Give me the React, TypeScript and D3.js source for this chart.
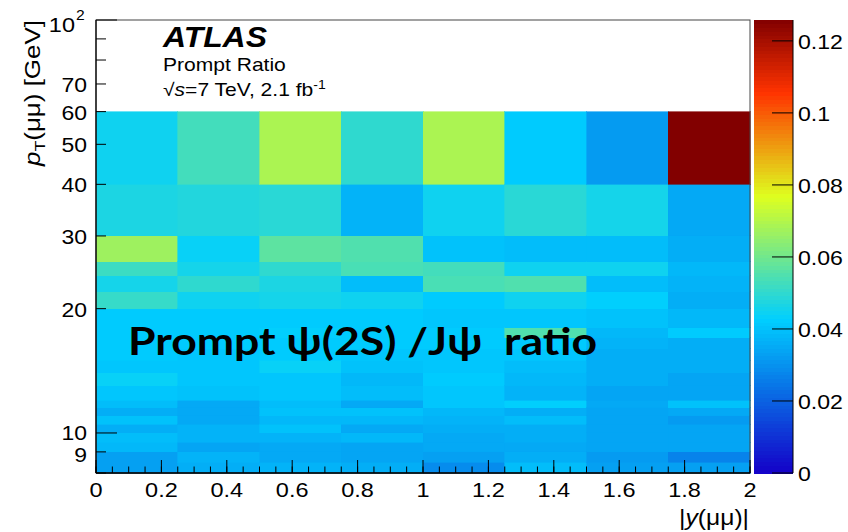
import React from 'react';
import * as d3 from 'd3';

// |y(μμ)| bin edges and pT(μμ) bin edges [GeV]
const rapEdges = [0, 0.25, 0.5, 0.75, 1.0, 1.25, 1.5, 1.75, 2.0];
const ptEdges = [8, 8.5, 9, 9.5, 10, 10.5, 11, 11.5, 12, 13, 14, 15, 16, 17, 18, 20, 22, 24, 26, 30, 40, 60];

// Prompt ψ(2S)/J/ψ ratio, one array per rapidity slice, pT bins from low to high
const ratio_y000_025 = [0.033, 0.033, 0.038, 0.039, 0.036, 0.040, 0.036, 0.039, 0.041, 0.044, 0.041, 0.042, 0.042, 0.042, 0.042, 0.051, 0.046, 0.052, 0.067, 0.047, 0.045];
const ratio_y025_050 = [0.036, 0.037, 0.034, 0.037, 0.037, 0.035, 0.035, 0.035, 0.040, 0.041, 0.041, 0.041, 0.042, 0.042, 0.042, 0.045, 0.050, 0.046, 0.044, 0.048, 0.053];
const ratio_y050_075 = [0.037, 0.035, 0.035, 0.037, 0.040, 0.038, 0.040, 0.039, 0.041, 0.041, 0.044, 0.042, 0.042, 0.043, 0.042, 0.046, 0.047, 0.050, 0.057, 0.049, 0.069];
const ratio_y075_100 = [0.036, 0.034, 0.034, 0.038, 0.035, 0.038, 0.040, 0.035, 0.039, 0.038, 0.040, 0.041, 0.042, 0.042, 0.042, 0.045, 0.039, 0.054, 0.055, 0.037, 0.050];
const ratio_y100_125 = [0.029, 0.033, 0.035, 0.035, 0.036, 0.037, 0.038, 0.041, 0.041, 0.042, 0.041, 0.041, 0.042, 0.042, 0.041, 0.042, 0.054, 0.053, 0.040, 0.045, 0.069];
const ratio_y125_150 = [0.039, 0.036, 0.035, 0.036, 0.036, 0.039, 0.036, 0.043, 0.037, 0.038, 0.039, 0.041, 0.042, 0.055, 0.041, 0.045, 0.055, 0.045, 0.039, 0.049, 0.042];
const ratio_y150_175 = [0.033, 0.032, 0.034, 0.034, 0.034, 0.034, 0.034, 0.035, 0.034, 0.036, 0.036, 0.036, 0.037, 0.038, 0.040, 0.043, 0.039, 0.045, 0.039, 0.046, 0.032];
const ratio_y175_200 = [0.033, 0.027, 0.034, 0.034, 0.034, 0.032, 0.035, 0.040, 0.034, 0.034, 0.036, 0.036, 0.036, 0.042, 0.038, 0.036, 0.037, 0.038, 0.036, 0.035, 0.1258];

const ratioColumns = [
  ratio_y000_025, ratio_y025_050, ratio_y050_075, ratio_y075_100,
  ratio_y100_125, ratio_y125_150, ratio_y150_175, ratio_y175_200,
];

const xMajorTicks = [0, 0.2, 0.4, 0.6, 0.8, 1.0, 1.2, 1.4, 1.6, 1.8, 2.0];
const xTickLabels = ['0', '0.2', '0.4', '0.6', '0.8', '1', '1.2', '1.4', '1.6', '1.8', '2'];
const yLabelTicks = [9, 10, 20, 30, 40, 50, 60, 70];
const yLabelText = ['9', '10', '20', '30', '40', '50', '60', '70'];
const yMinorTicks = [8, 9, 20, 30, 40, 50, 60, 70, 80, 90];
const yMajorTicks = [10, 100];
const zTicks = [0, 0.02, 0.04, 0.06, 0.08, 0.1, 0.12];
const zTickLabels = ['0', '0.02', '0.04', '0.06', '0.08', '0.1', '0.12'];
const zMax = 0.1258;
const paletteStops = [0, 0.34, 0.61, 0.84, 1.0];
const paletteColors = ['rgb(20,0,200)', 'rgb(0,207,255)', 'rgb(222,255,31)', 'rgb(255,51,0)', 'rgb(130,0,0)'];

const W = 848, H = 532;
const plot = { left: 96, right: 750, top: 20, bottom: 473 };
const bar = { left: 754, right: 793 };
const FONT = '"Liberation Sans", Arial, Helvetica, sans-serif';

export default function App() {
  const xs = d3.scaleLinear().domain([0, 2]).range([plot.left, plot.right]);
  const ys = d3.scaleLog().domain([8, 100]).range([plot.bottom, plot.top]);
  const zs = d3.scaleLinear().domain([0, zMax]).range([plot.bottom, plot.top]);
  const color = d3
    .scaleLinear<string>()
    .domain(paletteStops.map((s) => s * zMax))
    .range(paletteColors)
    .interpolate(d3.interpolateRgb)
    .clamp(true);

  const cells: any[] = [];
  ratioColumns.forEach((col, i) => {
    col.forEach((v, j) => {
      const x0 = xs(rapEdges[i]);
      const x1 = xs(rapEdges[i + 1]);
      const y0 = ys(ptEdges[j + 1]);
      const y1 = ys(ptEdges[j]);
      cells.push(
        <rect key={`c${i}-${j}`} x={x0} y={y0} width={x1 - x0} height={y1 - y0}
          fill={color(v)} stroke={color(v)} strokeWidth={0.6} />
      );
    });
  });

  const nBands = 120;
  const bands = d3.range(nBands).map((k) => {
    const v0 = (k / nBands) * zMax;
    const v1 = ((k + 1) / nBands) * zMax;
    return (
      <rect key={`b${k}`} x={bar.left} y={zs(v1)} width={bar.right - bar.left}
        height={zs(v0) - zs(v1) + 0.5} fill={color((v0 + v1) / 2)} />
    );
  });

  const xMinor = d3.range(0, 41).map((k) => k * 0.05);

  return (
    <svg width={W} height={H} style={{ position: 'absolute', left: 0, top: 0, background: '#fff' }}
      fontFamily={FONT}>
      <rect x={0} y={0} width={W} height={H} fill="#fff" />
      <g shapeRendering="crispEdges">{cells}</g>

      {/* frame */}
      <rect x={plot.left} y={plot.top} width={plot.right - plot.left} height={plot.bottom - plot.top}
        fill="none" stroke="#444" strokeWidth={1} />
      <line x1={plot.left} x2={plot.left} y1={plot.top} y2={plot.bottom} stroke="#000" strokeWidth={1.2} />
      <line x1={plot.left} x2={plot.right} y1={plot.bottom} y2={plot.bottom} stroke="#000" strokeWidth={1.5} />

      {/* x ticks */}
      {xMinor.map((t, k) => (
        <line key={`xm${k}`} x1={xs(t)} x2={xs(t)} y1={plot.bottom} y2={plot.bottom - 6.5} stroke="#000" strokeWidth={1} />
      ))}
      {xMajorTicks.map((t, k) => (
        <line key={`xM${k}`} x1={xs(t)} x2={xs(t)} y1={plot.bottom} y2={plot.bottom - 13} stroke="#000" strokeWidth={1} />
      ))}
      {xMajorTicks.map((t, k) => (
        <g key={`xl${k}`} transform={`translate(${xs(t)},497) scale(1.12,1)`}>
          <text textAnchor="middle" fontSize={21} fill="#000">{xTickLabels[k]}</text>
        </g>
      ))}

      {/* y ticks */}
      {yMinorTicks.map((t, k) => (
        <line key={`ym${k}`} x1={plot.left} x2={plot.left + 10} y1={ys(t)} y2={ys(t)} stroke="#000" strokeWidth={1} />
      ))}
      {yMajorTicks.map((t, k) => (
        <line key={`yM${k}`} x1={plot.left} x2={plot.left + 21} y1={ys(t)} y2={ys(t)} stroke="#000" strokeWidth={1} />
      ))}
      {yLabelTicks.map((t, k) => (
        <g key={`yl${k}`} transform={`translate(87,${ys(t) + (t === 10 ? 7 : t === 9 ? 10 : 8)}) scale(1.12,1)`}>
          <text textAnchor="end" fontSize={20.5} fill="#000">{yLabelText[k]}</text>
        </g>
      ))}
      <g transform={`translate(75,${ys(100) + 12}) scale(1.12,1)`}>
        <text textAnchor="end" fontSize={21} fill="#000">10</text>
      </g>
      <g transform={`translate(76,${ys(100)}) scale(1.12,1)`}>
        <text textAnchor="start" fontSize={14} fill="#000">2</text>
      </g>

      {/* axis titles */}
      <g transform="translate(749,525) scale(1.12,1)">
        <text textAnchor="end" fontSize={22} fill="#000">
          |<tspan fontStyle="italic">y</tspan>(μμ)|
        </text>
      </g>
      <g transform="translate(40,20) rotate(-90) scale(1.18,1)">
        <text textAnchor="end" fontSize={22} fill="#000">
          <tspan fontStyle="italic">p</tspan>
          <tspan fontSize={15} dy={5}>T</tspan>
          <tspan dy={-5}>(μμ) [GeV]</tspan>
        </text>
      </g>

      {/* colour bar */}
      <g shapeRendering="crispEdges">{bands}</g>
      <line x1={bar.right} x2={bar.right} y1={plot.top} y2={plot.bottom} stroke="#000" strokeWidth={1} />
      {zTicks.map((t, k) => (
        <g key={`z${k}`}>
          <line x1={bar.right - 21} x2={bar.right} y1={zs(t)} y2={zs(t)} stroke="#000" strokeWidth={1} />
          <g transform={`translate(798,${zs(t) + 8}) scale(1.1,1)`}>
            <text textAnchor="start" fontSize={21} fill="#000">{zTickLabels[k]}</text>
          </g>
        </g>
      ))}

      {/* labels */}
      <g transform="translate(163,47) scale(1.1,1)">
        <text fontSize={29} fontWeight="bold" fontStyle="italic" fill="#000">ATLAS</text>
      </g>
      <g transform="translate(163,71) scale(1.17,1)">
        <text fontSize={18} fill="#000">Prompt Ratio</text>
      </g>
      <g transform="translate(163,96) scale(1.17,1)">
        <text fontSize={18} fill="#000">
          √<tspan fontStyle="italic">s</tspan>=7 TeV, 2.1 fb<tspan fontSize={12} dy={-7}>-1</tspan>
        </text>
      </g>

      <text x={128} y={355} fontSize={38} fontWeight="bold" fontFamily='Lato, "Open Sans", sans-serif'
        fill="#000" textLength={469} lengthAdjust="spacingAndGlyphs">
        {'Prompt ψ(2S) /Jψ\u00A0\u00A0ratio'}
      </text>
    </svg>
  );
}
